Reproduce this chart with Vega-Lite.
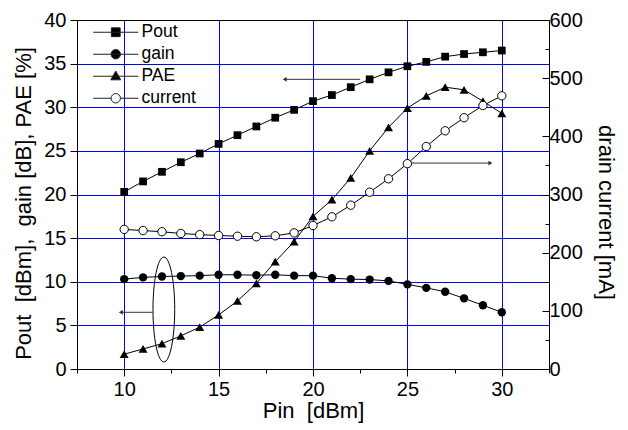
{
  "$schema": "https://vega.github.io/schema/vega-lite/v6.json",
  "autosize": {"type": "none"},
  "padding": {"left": 77, "top": 20, "right": 79, "bottom": 61},
  "width": 472,
  "height": 349,
  "config": {
    "font": "Liberation Sans",
    "view": {"stroke": "black", "strokeWidth": 1},
    "axis": {
      "labelFont": "Liberation Sans", "titleFont": "Liberation Sans",
      "labelFontSize": 20, "titleFontSize": 22, "titleFontWeight": "normal",
      "labelColor": "black", "titleColor": "black",
      "domainColor": "black", "tickColor": "black",
      "gridColor": "#0000ff", "gridOpacity": 1, "gridWidth": 1
    },
    "legend": {"labelFont": "Liberation Sans", "labelFontSize": 17.5, "labelColor": "black"}
  },
  "datasets": {
    "main": [
      {"pin": 10, "series": "Pout", "value": 20.3}, {"pin": 11, "series": "Pout", "value": 21.5}, {"pin": 12, "series": "Pout", "value": 22.6}, {"pin": 13, "series": "Pout", "value": 23.7}, {"pin": 14, "series": "Pout", "value": 24.7}, {"pin": 15, "series": "Pout", "value": 25.8}, {"pin": 16, "series": "Pout", "value": 26.8}, {"pin": 17, "series": "Pout", "value": 27.8}, {"pin": 18, "series": "Pout", "value": 28.8}, {"pin": 19, "series": "Pout", "value": 29.7}, {"pin": 20, "series": "Pout", "value": 30.7}, {"pin": 21, "series": "Pout", "value": 31.4}, {"pin": 22, "series": "Pout", "value": 32.3}, {"pin": 23, "series": "Pout", "value": 33.2}, {"pin": 24, "series": "Pout", "value": 34.0}, {"pin": 25, "series": "Pout", "value": 34.7}, {"pin": 26, "series": "Pout", "value": 35.2}, {"pin": 27, "series": "Pout", "value": 35.8}, {"pin": 28, "series": "Pout", "value": 36.1}, {"pin": 29, "series": "Pout", "value": 36.3}, {"pin": 30, "series": "Pout", "value": 36.5},
      {"pin": 10, "series": "gain", "value": 10.3}, {"pin": 11, "series": "gain", "value": 10.5}, {"pin": 12, "series": "gain", "value": 10.6}, {"pin": 13, "series": "gain", "value": 10.65}, {"pin": 14, "series": "gain", "value": 10.7}, {"pin": 15, "series": "gain", "value": 10.8}, {"pin": 16, "series": "gain", "value": 10.8}, {"pin": 17, "series": "gain", "value": 10.75}, {"pin": 18, "series": "gain", "value": 10.8}, {"pin": 19, "series": "gain", "value": 10.7}, {"pin": 20, "series": "gain", "value": 10.7}, {"pin": 21, "series": "gain", "value": 10.4}, {"pin": 22, "series": "gain", "value": 10.3}, {"pin": 23, "series": "gain", "value": 10.25}, {"pin": 24, "series": "gain", "value": 10.1}, {"pin": 25, "series": "gain", "value": 9.7}, {"pin": 26, "series": "gain", "value": 9.3}, {"pin": 27, "series": "gain", "value": 8.85}, {"pin": 28, "series": "gain", "value": 8.1}, {"pin": 29, "series": "gain", "value": 7.3}, {"pin": 30, "series": "gain", "value": 6.5},
      {"pin": 10, "series": "PAE", "value": 1.7}, {"pin": 11, "series": "PAE", "value": 2.3}, {"pin": 12, "series": "PAE", "value": 2.9}, {"pin": 13, "series": "PAE", "value": 3.8}, {"pin": 14, "series": "PAE", "value": 4.8}, {"pin": 15, "series": "PAE", "value": 6.2}, {"pin": 16, "series": "PAE", "value": 7.8}, {"pin": 17, "series": "PAE", "value": 9.8}, {"pin": 18, "series": "PAE", "value": 12.3}, {"pin": 19, "series": "PAE", "value": 14.6}, {"pin": 20, "series": "PAE", "value": 17.5}, {"pin": 21, "series": "PAE", "value": 19.4}, {"pin": 22, "series": "PAE", "value": 21.9}, {"pin": 23, "series": "PAE", "value": 25.0}, {"pin": 24, "series": "PAE", "value": 27.7}, {"pin": 25, "series": "PAE", "value": 29.9}, {"pin": 26, "series": "PAE", "value": 31.3}, {"pin": 27, "series": "PAE", "value": 32.3}, {"pin": 28, "series": "PAE", "value": 32.0}, {"pin": 29, "series": "PAE", "value": 30.7}, {"pin": 30, "series": "PAE", "value": 29.3},
      {"pin": 10, "series": "current", "value": 240}, {"pin": 11, "series": "current", "value": 238}, {"pin": 12, "series": "current", "value": 236}, {"pin": 13, "series": "current", "value": 233}, {"pin": 14, "series": "current", "value": 231}, {"pin": 15, "series": "current", "value": 229.5}, {"pin": 16, "series": "current", "value": 228.3}, {"pin": 17, "series": "current", "value": 227.3}, {"pin": 18, "series": "current", "value": 229}, {"pin": 19, "series": "current", "value": 234}, {"pin": 20, "series": "current", "value": 246.7}, {"pin": 21, "series": "current", "value": 261.6}, {"pin": 22, "series": "current", "value": 281.6}, {"pin": 23, "series": "current", "value": 304}, {"pin": 24, "series": "current", "value": 327}, {"pin": 25, "series": "current", "value": 353}, {"pin": 26, "series": "current", "value": 382.5}, {"pin": 27, "series": "current", "value": 409.5}, {"pin": 28, "series": "current", "value": 432}, {"pin": 29, "series": "current", "value": 453}, {"pin": 30, "series": "current", "value": 469.7}
    ],
    "arrows": [
      {"x1": 22.5, "x2": 18.5, "y": 33.2},
      {"x1": 25.0, "x2": 29.4, "y": 23.6},
      {"x1": 11.5, "x2": 9.82, "y": 6.5}
    ],
    "headsLeft": [
      {"x": 18.5, "y": 33.2},
      {"x": 9.82, "y": 6.5}
    ],
    "headsRight": [
      {"x": 29.4, "y": 23.6}
    ],
    "ellipse": [
      {"x": 12.1, "y": 6.82}
    ]
  },
  "resolve": {"scale": {"y": "independent"}, "axis": {"y": "independent"}},
  "layer": [
    {
      "encoding": {
        "x": {
          "type": "quantitative",
          "scale": {"domain": [7.5, 32.5], "nice": false, "zero": false},
          "axis": {
            "title": "Pin\u00a0\u00a0[dBm]",
            "values": [7.5, 10, 12.5, 15, 17.5, 20, 22.5, 25, 27.5, 30, 32.5],
            "labelExpr": "datum.value % 5 == 0 ? datum.label : ''",
            "tickSize": {"condition": {"test": "datum.value % 5 == 0", "value": 7}, "value": 4},
            "gridOpacity": {"condition": {"test": "datum.value % 5 == 0 && datum.value >= 10 && datum.value <= 30", "value": 1}, "value": 0},
            "labelPadding": 3,
            "titlePadding": 1
          }
        }
      },
      "layer": [
        {
          "data": {"name": "main"},
          "transform": [{"filter": "datum.series != 'current'"}],
          "mark": {"type": "line", "color": "black", "strokeWidth": 1},
          "encoding": {
            "x": {"field": "pin", "type": "quantitative"},
            "y": {
              "field": "value", "type": "quantitative",
              "scale": {"domain": [0, 40], "nice": false},
              "axis": {
                "title": "Pout\u00a0\u00a0[dBm],\u00a0\u00a0gain [dB], PAE [%]",
                "values": [0, 2.5, 5, 7.5, 10, 12.5, 15, 17.5, 20, 22.5, 25, 27.5, 30, 32.5, 35, 37.5, 40],
                "labelExpr": "datum.value % 5 == 0 ? datum.label : ''",
                "tickSize": {"condition": {"test": "datum.value % 5 == 0", "value": 7}, "value": 4},
                "gridOpacity": {"condition": {"test": "datum.value % 5 == 0 && datum.value > 0 && datum.value < 40", "value": 1}, "value": 0},
                "labelPadding": 4,
                "titlePadding": 8,
                "titleY": 183
              }
            },
            "detail": {"field": "series"}
          }
        },
        {
          "data": {"name": "main"},
          "transform": [{"filter": "datum.series == 'Pout'"}],
          "mark": {"type": "point", "shape": "square", "filled": true, "color": "black", "size": 60, "opacity": 1},
          "encoding": {"x": {"field": "pin", "type": "quantitative"}, "y": {"field": "value", "type": "quantitative"}}
        },
        {
          "data": {"name": "main"},
          "transform": [{"filter": "datum.series == 'gain'"}],
          "mark": {"type": "point", "shape": "circle", "filled": true, "color": "black", "size": 70, "opacity": 1},
          "encoding": {"x": {"field": "pin", "type": "quantitative"}, "y": {"field": "value", "type": "quantitative"}}
        },
        {
          "data": {"name": "main"},
          "transform": [{"filter": "datum.series == 'PAE'"}],
          "mark": {"type": "point", "shape": "triangle-up", "filled": true, "color": "black", "size": 80, "opacity": 1},
          "encoding": {"x": {"field": "pin", "type": "quantitative"}, "y": {"field": "value", "type": "quantitative"}}
        },
        {
          "data": {"name": "arrows"},
          "mark": {"type": "rule", "color": "#333333", "strokeWidth": 1},
          "encoding": {"x": {"field": "x1", "type": "quantitative"}, "x2": {"field": "x2"}, "y": {"field": "y", "type": "quantitative"}}
        },
        {
          "data": {"name": "headsLeft"},
          "mark": {"type": "point", "shape": "triangle-left", "filled": true, "color": "#333333", "size": 22, "opacity": 1},
          "encoding": {"x": {"field": "x", "type": "quantitative"}, "y": {"field": "y", "type": "quantitative"}}
        },
        {
          "data": {"name": "headsRight"},
          "mark": {"type": "point", "shape": "triangle-right", "filled": true, "color": "#333333", "size": 22, "opacity": 1},
          "encoding": {"x": {"field": "x", "type": "quantitative"}, "y": {"field": "y", "type": "quantitative"}}
        },
        {
          "data": {"name": "ellipse"},
          "mark": {"type": "point", "shape": "M0,-1A0.207,1 0 1,1 0,1A0.207,1 0 1,1 0,-1Z", "filled": false, "stroke": "black", "strokeWidth": 1, "size": 11025, "opacity": 1},
          "encoding": {"x": {"field": "x", "type": "quantitative"}, "y": {"field": "y", "type": "quantitative"}}
        },
        {
          "data": {"name": "main"},
          "transform": [{"filter": "false"}],
          "mark": {"type": "point", "stroke": "#222222", "strokeWidth": 1, "opacity": 1},
          "encoding": {
            "shape": {
              "field": "series", "type": "nominal",
              "scale": {
                "domain": ["Pout", "gain", "PAE", "current"],
                "range": [
                  "M-4.1,0H4.1M-0.8,-0.8H0.8V0.8H-0.8Z",
                  "M-4.1,0H4.1M0.85,0A0.85,0.85 0 1,1 -0.85,0A0.85,0.85 0 1,1 0.85,0Z",
                  "M-4.1,0H4.1M0,-0.95L0.9,0.65H-0.9Z",
                  "M-4.1,0H-0.85M0.85,0H4.1M0.85,0A0.85,0.85 0 1,1 -0.85,0A0.85,0.85 0 1,1 0.85,0Z"
                ]
              },
              "legend": {
                "title": null, "orient": "none", "legendX": 30, "legendY": 3.5,
                "padding": 0, "symbolSize": 121, "symbolStrokeWidth": 1,
                "labelOffset": 17, "rowPadding": 3
              }
            },
            "fill": {
              "field": "series", "type": "nominal",
              "scale": {"domain": ["Pout", "gain", "PAE", "current"], "range": ["black", "black", "black", "white"]},
              "legend": {
                "title": null, "orient": "none", "legendX": 30, "legendY": 3.5,
                "padding": 0, "symbolSize": 121, "symbolStrokeWidth": 1,
                "labelOffset": 17, "rowPadding": 3
              }
            }
          }
        }
      ]
    },
    {
      "data": {"name": "main"},
      "transform": [{"filter": "datum.series == 'current'"}],
      "encoding": {
        "x": {"field": "pin", "type": "quantitative"},
        "y": {
          "field": "value", "type": "quantitative",
          "scale": {"domain": [0, 600], "nice": false},
          "axis": {
            "orient": "right",
            "title": "drain current [mA]",
            "values": [0, 50, 100, 150, 200, 250, 300, 350, 400, 450, 500, 550, 600],
            "labelExpr": "datum.value % 100 == 0 ? datum.label : ''",
            "tickSize": {"condition": {"test": "datum.value % 100 == 0", "value": -7}, "value": -4},
            "grid": false,
            "labelPadding": 7,
            "titlePadding": 11,
            "titleY": 192
          }
        }
      },
      "layer": [
        {"mark": {"type": "line", "color": "black", "strokeWidth": 1}},
        {"mark": {"type": "point", "shape": "circle", "filled": true, "fill": "white", "stroke": "black", "strokeWidth": 1, "size": 70, "opacity": 1}}
      ]
    }
  ]
}
